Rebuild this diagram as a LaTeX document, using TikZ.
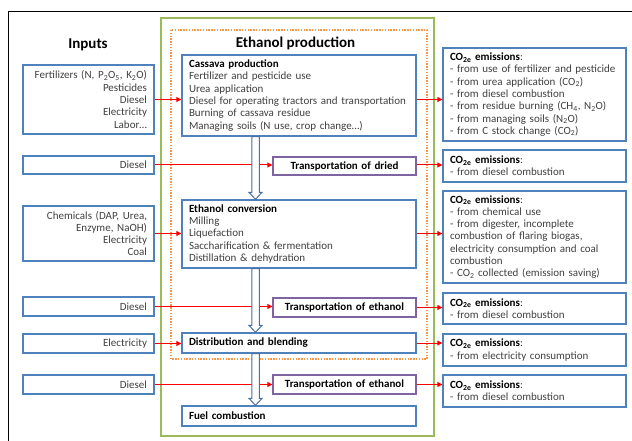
\documentclass[tikz,border=0pt]{standalone}
\usepackage{fontspec}
\setmainfont{Carlito}
\usetikzlibrary{arrows.meta,calc}
\definecolor{boxblue}{HTML}{4F81BD}
\definecolor{boxpurple}{HTML}{8064A2}
\definecolor{boxgreen}{HTML}{9BBB59}
\definecolor{boxorange}{HTML}{F79646}
\definecolor{txtgray}{HTML}{404040}
\definecolor{arrblue}{HTML}{4A6FA5}
\newcommand\hollowarr[3]{%
  \draw[hollow] let \p1=(#1 |- #2.south), \p2=(#1 |- #3.north) in
    (\x1-3.75pt,\y1) -- (\x1-3.75pt,\y2+7pt) -- (\x1-6.5pt,\y2+7pt) -- (\x1,\y2)
    -- (\x1+6.5pt,\y2+7pt) -- (\x1+3.75pt,\y2+7pt) -- (\x1+3.75pt,\y1) -- cycle;}
\begin{document}
\begin{tikzpicture}[x=1pt,y=-1pt,
  every node/.style={font=\fontsize{11}{12.3}\selectfont, text=txtgray},
  basebox/.style={draw=boxblue, line width=1.3pt, fill=white, inner xsep=7pt, inner ysep=0pt},
  inbox/.style={basebox, align=right, text width=117pt},
  mainbox/.style={basebox, align=left, text width=220pt},
  embox/.style={basebox, align=left, text width=169pt},
  trbox/.style={basebox, draw=boxpurple, align=center, text width=129pt, font=\fontsize{11}{12.3}\selectfont\bfseries, text=black},
  title/.style={font=\fontsize{15}{17}\selectfont\bfseries, text=black},
  redarr/.style={draw=red, line width=1pt, -{Triangle[length=5pt,width=5pt]}},
  hollow/.style={draw=arrblue, line width=1pt, fill=white}
]
\useasboundingbox (0,0) rectangle (632,441);
% outer frame
\draw[black, line width=0.8pt] (8,460) -- (8,11) -- (650,11);
% green and orange frames
\draw[boxgreen, line width=1.3pt] (161,18) rectangle (434,436);
\draw[boxorange, line width=1.3pt, dash pattern=on 1.4pt off 1.4pt] (171,30) rectangle (427,359);
% titles
\node[title] (tinp) at (88,45) {Inputs};
\node[title] (teth) at (295.5,43) {Ethanol production};
% inputs
\node[inbox, minimum height=69pt] (inp1) at (88.5,99.5) {Fertilizers (N, P\textsubscript{2}O\textsubscript{5}, K\textsubscript{2}O)\\Pesticides\\Diesel\\Electricity\\Labor…};
\node[inbox, minimum height=18pt] (inp2) at (88.5,165) {Diesel};
\node[inbox, minimum height=55pt] (inp3) at (88.5,233.5) {Chemicals (DAP, Urea,\\Enzyme, NaOH)\\Electricity\\Coal};
\node[inbox, minimum height=19pt] (inp4) at (88.5,306.5) {Diesel};
\node[inbox, minimum height=19pt] (inp5) at (88.5,343.5) {Electricity};
\node[inbox, minimum height=19pt] (inp6) at (88.5,384.5) {Diesel};
% main chain
\node[mainbox, minimum height=81pt] (cas) at (299,95.5) {\textcolor{black}{\textbf{Cassava production}}\\Fertilizer and pesticide use\\Urea application\\Diesel for operating tractors and transportation\\Burning of cassava residue\\Managing soils (N use, crop change…)};
\node[mainbox, minimum height=68pt] (conv) at (299,234) {\textcolor{black}{\textbf{Ethanol conversion}}\\Milling\\Liquefaction\\Saccharification \& fermentation\\Distillation \& dehydration};
\node[mainbox, minimum height=20pt] (dist) at (299,343) {\textcolor{black}{\textbf{Distribution and blending}}};
\node[mainbox, minimum height=20pt] (fuel) at (299,416) {\textcolor{black}{\textbf{Fuel combustion}}};
% transport
\node[trbox, minimum height=18pt] (tr1) at (344.5,166) {Transportation of dried};
\node[trbox, minimum height=19pt] (tr2) at (344.5,307.5) {Transportation of ethanol};
\node[trbox, minimum height=19pt] (tr3) at (344.5,384.5) {Transportation of ethanol};
% emissions
\newcommand\emhead{\textcolor{black}{\textbf{CO\textsubscript{2e} emissions}}:}
\node[embox, minimum height=93pt] (em1) at (534.5,94.5) {\emhead\\- from use of fertilizer and pesticide\\- from urea application (CO\textsubscript{2})\\- from diesel combustion\\- from residue burning (CH\textsubscript{4}, N\textsubscript{2}O)\\- from managing soils (N\textsubscript{2}O)\\- from C stock change (CO\textsubscript{2})};
\node[embox, minimum height=32pt] (em2) at (534.5,166) {\emhead\\- from diesel combustion};
\node[embox, minimum height=92pt] (em3) at (534.5,237) {\emhead\\- from chemical use\\- from digester, incomplete\\combustion of flaring biogas,\\electricity consumption and coal\\combustion\\- CO\textsubscript{2} collected (emission saving)};
\node[embox, minimum height=31pt] (em4) at (534.5,308.5) {\emhead\\- from diesel combustion};
\node[embox, minimum height=32pt] (em5) at (534.5,350) {\emhead\\- from electricity consumption};
\node[embox, minimum height=32pt] (em6) at (534.5,391) {\emhead\\- from diesel combustion};
% red arrows
\draw[redarr] (inp1.east) -- (cas.west |- inp1.east);
\draw[redarr] (cas.east |- inp1.east) -- (em1.west |- inp1.east);
\draw[redarr] (inp2.east) -- (tr1.west |- inp2.east);
\draw[redarr] (tr1.east |- inp2.east) -- (em2.west |- inp2.east);
\draw[redarr] (inp3.east) -- (conv.west |- inp3.east);
\draw[redarr] (conv.east |- inp3.east) -- (em3.west |- inp3.east);
\draw[redarr] (inp4.east) -- (tr2.west |- inp4.east);
\draw[redarr] (tr2.east) -- (em4.west |- tr2.east);
\draw[redarr] (inp5.east) -- (dist.west |- inp5.east);
\draw[redarr] (dist.east) -- (em5.west |- dist.east);
\draw[redarr] (inp6.east) -- (tr3.west |- inp6.east);
\draw[redarr] (tr3.east) -- (em6.west |- tr3.east);
% hollow arrows
\coordinate (ax) at (255.5,0);
\hollowarr{ax}{cas}{conv}
\hollowarr{ax}{conv}{dist}
\hollowarr{ax}{dist}{fuel}
\end{tikzpicture}
\end{document}
